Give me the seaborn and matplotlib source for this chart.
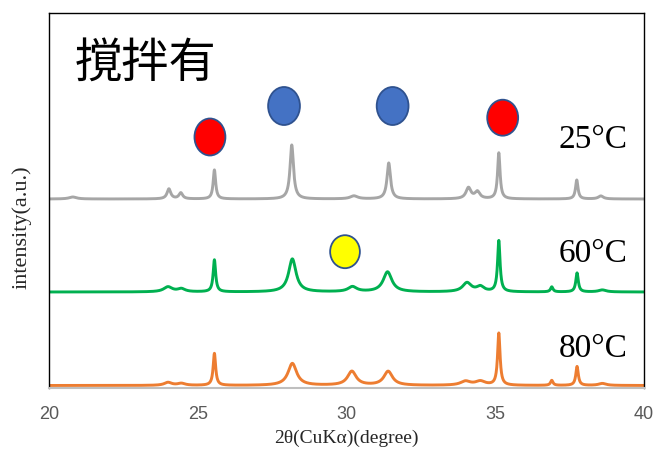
import numpy as np
import pandas as pd
import matplotlib
matplotlib.use("Agg")
import matplotlib.pyplot as plt
from matplotlib import font_manager
from matplotlib.patches import Ellipse
import seaborn as sns

# Peak tables (2θ position, height above baseline, FWHM) for each sample
temps = ["25°C", "60°C", "80°C"]
baselines = [186.5, 93.5, 0.0]
line_colors = ["#A6A6A6", "#00B050", "#ED7D31"]

pos_25 = [20.8, 24.03, 24.43, 25.56, 28.16, 30.25, 31.42, 34.1, 34.4, 35.12, 37.74, 38.55]
hgt_25 = [2, 10, 6, 29, 54, 3, 36, 11, 7, 46, 19, 3]
fwhm_25 = [0.3, 0.15, 0.15, 0.1, 0.14, 0.3, 0.14, 0.2, 0.2, 0.1, 0.1, 0.2]

pos_60 = [24.0, 24.45, 25.56, 28.18, 30.2, 31.38, 34.05, 34.5, 35.12, 36.9, 37.75, 38.6]
hgt_60 = [5, 3, 32, 33, 5, 20, 9, 5, 51, 5, 19, 2]
fwhm_60 = [0.35, 0.3, 0.1, 0.3, 0.35, 0.35, 0.35, 0.3, 0.1, 0.1, 0.1, 0.3]

pos_80 = [24.0, 24.45, 25.56, 28.18, 30.18, 31.4, 34.0, 34.5, 35.12, 36.9, 37.75, 38.6]
hgt_80 = [3, 2, 32, 22, 14, 14, 4, 4, 52, 5, 19, 2]
fwhm_80 = [0.3, 0.3, 0.1, 0.35, 0.35, 0.35, 0.4, 0.4, 0.1, 0.1, 0.1, 0.3]

# Phase markers: centre (2θ, intensity), size (degrees, intensity), fill colour
marker_x = [25.41, 27.90, 31.55, 35.25, 29.95]
marker_y = [248.5, 279.5, 279.5, 267.8, 133.8]
marker_w = [1.04, 1.07, 1.07, 1.04, 1.0]
marker_h = [37, 38, 38, 36, 33]
marker_fill = ["#FF0000", "#4472C4", "#4472C4", "#FF0000", "#FFFF00"]

label_y = [237.2, 123.8, 28.8]
xticks = [20, 25, 30, 35, 40]
title = "撹拌有"

two_theta = np.arange(20.0, 40.0001, 0.01)


def profile(pos, hgt, fwhm):
    y = np.zeros_like(two_theta)
    for p, h, w in zip(pos, hgt, fwhm):
        y += h / (1.0 + ((two_theta - p) / (w / 2.0)) ** 2)
    return y


tables = [(pos_25, hgt_25, fwhm_25), (pos_60, hgt_60, fwhm_60), (pos_80, hgt_80, fwhm_80)]
frames = []
for t, b, tab in zip(temps, baselines, tables):
    frames.append(pd.DataFrame({"2theta": two_theta,
                                "intensity": b + profile(*tab),
                                "sample": t}))
df = pd.concat(frames, ignore_index=True)

sns.set_theme(style="white")
plt.rcParams["font.family"] = ["Liberation Serif", "DejaVu Serif"]

installed = {f.name for f in font_manager.fontManager.ttflist}
tick_family = "Liberation Sans Narrow" if "Liberation Sans Narrow" in installed else "Liberation Sans"
tick_stretch = "normal" if tick_family == "Liberation Sans Narrow" else "condensed"

fig = plt.figure(figsize=(6.56, 4.49), dpi=100)
ax = fig.add_axes([49 / 656, 1 - 387.5 / 449, 595 / 656, 374.5 / 449])

sns.lineplot(data=df, x="2theta", y="intensity", hue="sample",
             palette=dict(zip(temps, line_colors)), linewidth=2.1,
             legend=False, ax=ax)

for x, y, w, h, c in zip(marker_x, marker_y, marker_w, marker_h, marker_fill):
    ax.add_patch(Ellipse((x, y), w, h, facecolor=c, edgecolor="#2F528F",
                         linewidth=1.3, zorder=5))

for t, y in zip(temps, label_y):
    ax.text(39.46, y, t, ha="right", va="baseline", fontsize=24,
            family=["Liberation Serif", "DejaVu Serif"], color="black")

ax.text(0.043, 0.866, title, transform=ax.transAxes, ha="left", va="center",
        fontsize=34, family=["Noto Sans CJK JP", "DejaVu Sans"], color="black")

ax.set_xlim(20, 40)
ax.set_ylim(-2, 372.5)
ax.set_xticks(xticks)
ax.set_xticklabels([str(v) for v in xticks], family=tick_family,
                   fontstretch=tick_stretch, fontsize=13, color="#595959")
ax.set_yticks([])
ax.tick_params(axis="x", direction="in", length=4, width=1, color="#A6A6A6", pad=13)

for side in ["top", "left", "right"]:
    ax.spines[side].set_color("black")
    ax.spines[side].set_linewidth(1.0)
ax.spines["bottom"].set_color("#BFBFBF")
ax.spines["bottom"].set_linewidth(1.5)

ax.set_xlabel("2θ(CuKα)(degree)", fontsize=14)
ax.xaxis.set_label_coords(0.5, -0.112)
ax.set_ylabel("intensity(a.u.)", fontsize=16)
ax.yaxis.set_label_coords(-0.03, 0.4286)

fig.savefig("out.png", dpi=100)
